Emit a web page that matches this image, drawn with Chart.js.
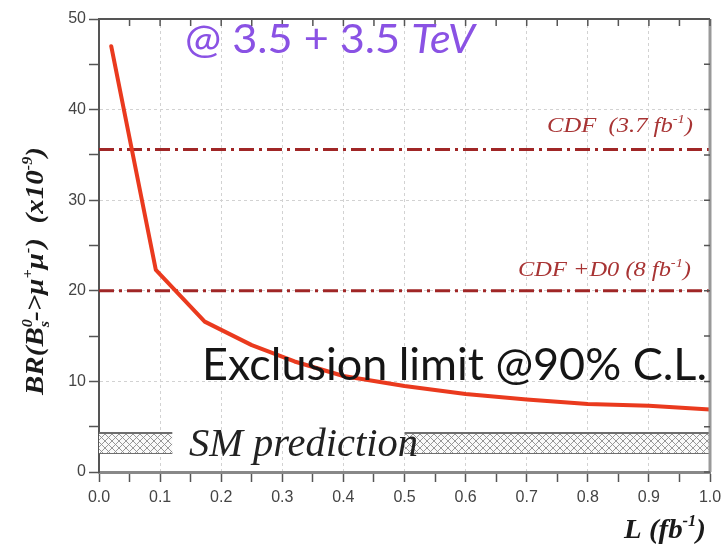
<!DOCTYPE html>
<html>
<head>
<meta charset="utf-8">
<title>BR limit vs luminosity</title>
<script src="https://cdn.jsdelivr.net/npm/chart.js@4"></script>
<style>
  html, body { margin: 0; padding: 0; background: #fff; }
</style>
</head>
<body>
<canvas id="myChart" width="728" height="547"></canvas>
<script>
'use strict';

// expected 90% CL limit (x1e-9) vs integrated luminosity (fb^-1)
const lumi = [0.02, 0.093, 0.173, 0.25, 0.32, 0.4, 0.5, 0.6, 0.7, 0.8, 0.9, 1.0];
const brLimit = [47, 22.3, 16.6, 14.0, 12.2, 10.6, 9.5, 8.6, 8.0, 7.5, 7.3, 6.9];

// existing limits
const cdfLimit = 35.6;
const cdfD0Limit = 20;

// SM prediction band, drawn in two pieces around the label
const smLow = 2.1;
const smHigh = 4.3;
const smSpans = [[0, 0.12], [0.5, 1.0]];

const xTickLabels = ['0.0', '0.1', '0.2', '0.3', '0.4', '0.5', '0.6', '0.7', '0.8', '0.9', '1.0'];
const yTickLabels = ['0', '10', '20', '30', '40', '50'];

const canvas = document.getElementById('myChart');
const ctx = canvas.getContext('2d');

function hatchPattern() {
  const c = document.createElement('canvas');
  c.width = 7;
  c.height = 7;
  const g = c.getContext('2d');
  g.fillStyle = '#fafafa';
  g.fillRect(0, 0, 7, 7);
  g.strokeStyle = '#8c8c8c';
  g.lineWidth = 0.9;
  g.beginPath();
  g.moveTo(0, 0); g.lineTo(7, 7);
  g.moveTo(7, 0); g.lineTo(0, 7);
  g.stroke();
  return ctx.createPattern(c, 'repeat');
}
const hatch = hatchPattern();

// text made of pieces (superscripts etc), squeezed to a given width
function drawRich(c, parts, left, base, width) {
  let total = 0;
  parts.forEach(p => {
    c.font = p.font;
    p.w = c.measureText(p.t).width;
    if (!p.keep) total += p.w;
  });
  c.save();
  c.translate(left, base);
  c.scale(width / total, 1);
  let cx = 0;
  parts.forEach(p => {
    c.font = p.font;
    c.fillStyle = p.color;
    c.fillText(p.t, cx, p.dy || 0);
    if (!p.keep) cx += p.w;
  });
  c.restore();
}

const serifBI = (s) => `italic bold ${s}px "Liberation Serif", "DejaVu Serif", serif`;
const serifI = (s) => `italic ${s}px "Liberation Serif", "DejaVu Serif", serif`;
const sans = (s) => `${s}px Lato, "Open Sans", sans-serif`;

const decorations = {
  id: 'decorations',
  afterDatasetsDraw(chart) {
    const c = chart.ctx;
    const a = chart.chartArea;
    const x = chart.scales.x;
    const y = chart.scales.y;
    c.save();

    // top and right frame with inward ticks
    c.strokeStyle = '#555';
    c.lineWidth = 2;
    c.beginPath();
    c.moveTo(a.left, a.top);
    c.lineTo(a.right, a.top);
    c.stroke();
    c.strokeStyle = '#999';
    c.lineWidth = 3;
    c.beginPath();
    c.moveTo(a.right, a.top);
    c.lineTo(a.right, a.bottom);
    c.stroke();
    c.strokeStyle = '#555';
    c.lineWidth = 1.5;
    c.beginPath();
    x.ticks.forEach(t => {
      const px = x.getPixelForValue(t.value);
      c.moveTo(px, a.top);
      c.lineTo(px, a.top + 7);
    });
    y.ticks.forEach(t => {
      const py = y.getPixelForValue(t.value);
      c.moveTo(a.right, py);
      c.lineTo(a.right - 6, py);
    });
    c.stroke();

    c.textBaseline = 'alphabetic';
    const red = '#a83434';

    // limit labels
    drawRich(c, [
      { t: 'CDF  (3.7 fb', font: serifI(22), color: red },
      { t: '-1', font: serifI(13), color: red, dy: -9 },
      { t: ')', font: serifI(22), color: red }
    ], 547, y.getPixelForValue(cdfLimit) - 17, 146);
    drawRich(c, [
      { t: 'CDF +D0 (8 fb', font: serifI(22), color: red },
      { t: '-1', font: serifI(13), color: red, dy: -9 },
      { t: ')', font: serifI(22), color: red }
    ], 518, y.getPixelForValue(cdfD0Limit) - 15, 173);

    // energy
    drawRich(c, [
      { t: '@ 3.5 + 3.5 ', font: sans(40), color: '#8a52e4' },
      { t: 'TeV', font: 'italic ' + sans(40), color: '#8a52e4' }
    ], 185, 53, 290);

    drawRich(c, [
      { t: 'Exclusion limit @90% C.L.', font: sans(44), color: '#151515' }
    ], 202, 380, 505);

    drawRich(c, [
      { t: 'SM prediction', font: serifI(41), color: '#222' }
    ], 189, 456, 229);

    // axis titles
    const ink = '#1a1a1a';
    drawRich(c, [
      { t: 'L (fb', font: serifBI(28), color: ink },
      { t: '-1', font: serifBI(16), color: ink, dy: -12 },
      { t: ')', font: serifBI(28), color: ink }
    ], 624, 538, 82);

    c.save();
    c.translate(43, 271);
    c.rotate(-Math.PI / 2);
    drawRich(c, [
      { t: 'BR(B', font: serifBI(25), color: ink },
      { t: '0', font: serifBI(14), color: ink, dy: -11, keep: true },
      { t: 's', font: serifBI(14), color: ink, dy: 6 },
      { t: '->\u03bc', font: serifBI(25), color: ink },
      { t: '+', font: serifBI(14), color: ink, dy: -11 },
      { t: '\u03bc', font: serifBI(25), color: ink },
      { t: '-', font: serifBI(14), color: ink, dy: -11 },
      { t: ')  (x10', font: serifBI(25), color: ink },
      { t: '-9', font: serifBI(14), color: ink, dy: -11 },
      { t: ')', font: serifBI(25), color: ink }
    ], -124, 0, 248);
    c.restore();

    c.restore();
  }
};

const datasets = [];

datasets.push({
  label: 'Exclusion limit',
  data: lumi.map((l, i) => ({ x: l, y: brLimit[i] })),
  borderColor: '#ea3a1e',
  borderWidth: 4,
  borderJoinStyle: 'round',
  borderCapStyle: 'round',
  pointRadius: 0,
  tension: 0,
  fill: false,
  order: 1
});

[cdfLimit, cdfD0Limit].forEach(v => {
  datasets.push({
    label: 'limit ' + v,
    data: [{ x: 0, y: v }, { x: 1, y: v }],
    borderColor: '#a02626',
    borderWidth: 3,
    borderDash: [15, 5, 3, 5],
    pointRadius: 0,
    fill: false,
    order: 2
  });
});

smSpans.forEach(s => {
  datasets.push({
    label: 'SM high',
    data: [{ x: s[0], y: smHigh }, { x: s[1], y: smHigh }],
    borderColor: '#6e6e6e',
    borderWidth: 2,
    backgroundColor: hatch,
    pointRadius: 0,
    fill: { value: smLow },
    order: 3
  });
  datasets.push({
    label: 'SM low',
    data: [{ x: s[0], y: smLow }, { x: s[1], y: smLow }],
    borderColor: '#6e6e6e',
    borderWidth: 2,
    pointRadius: 0,
    fill: false,
    order: 3
  });
});

const tickFont = { family: 'Arial, "Liberation Sans", sans-serif', size: 16 };

const chart = new Chart(ctx, {
  type: 'line',
  data: { datasets: datasets },
  options: {
    responsive: false,
    animation: false,
    layout: { padding: { top: 19, right: 18, left: 0, bottom: 0 } },
    plugins: {
      legend: { display: false },
      tooltip: { enabled: false }
    },
    scales: {
      x: {
        type: 'linear',
        min: 0,
        max: 1,
        afterFit: (s) => { s.height = 75; },
        ticks: {
          stepSize: 0.05,
          autoSkip: false,
          maxRotation: 0,
          padding: 6,
          color: '#444',
          font: tickFont,
          callback: (v) => {
            const k = Math.round(v * 20);
            return k % 2 === 0 ? xTickLabels[k / 2] : '';
          }
        },
        grid: {
          color: (c) => {
            const k = Math.round(c.tick.value * 20);
            return (k % 2 === 0 && k > 0 && k < 20) ? '#d2d2d2' : 'rgba(0,0,0,0)';
          },
          lineWidth: 1,
          tickLength: 10,
          tickColor: '#555',
          tickWidth: 1.5
        },
        border: { color: '#888', width: 3, dash: [3, 3] }
      },
      y: {
        min: 0,
        max: 50,
        afterFit: (s) => { s.width = 99; },
        ticks: {
          stepSize: 5,
          autoSkip: false,
          padding: 3,
          color: '#444',
          font: tickFont,
          callback: (v) => {
            const k = Math.round(v / 5);
            return k % 2 === 0 ? yTickLabels[k / 2] : '';
          }
        },
        grid: {
          color: (c) => {
            const k = Math.round(c.tick.value / 5);
            return (k % 2 === 0 && k > 0 && k < 10) ? '#d2d2d2' : 'rgba(0,0,0,0)';
          },
          lineWidth: 1,
          tickLength: 10,
          tickColor: '#555',
          tickWidth: 1.5
        },
        border: { color: '#555', width: 2, dash: [3, 3] }
      }
    }
  },
  plugins: [decorations]
});
</script>
</body>
</html>
